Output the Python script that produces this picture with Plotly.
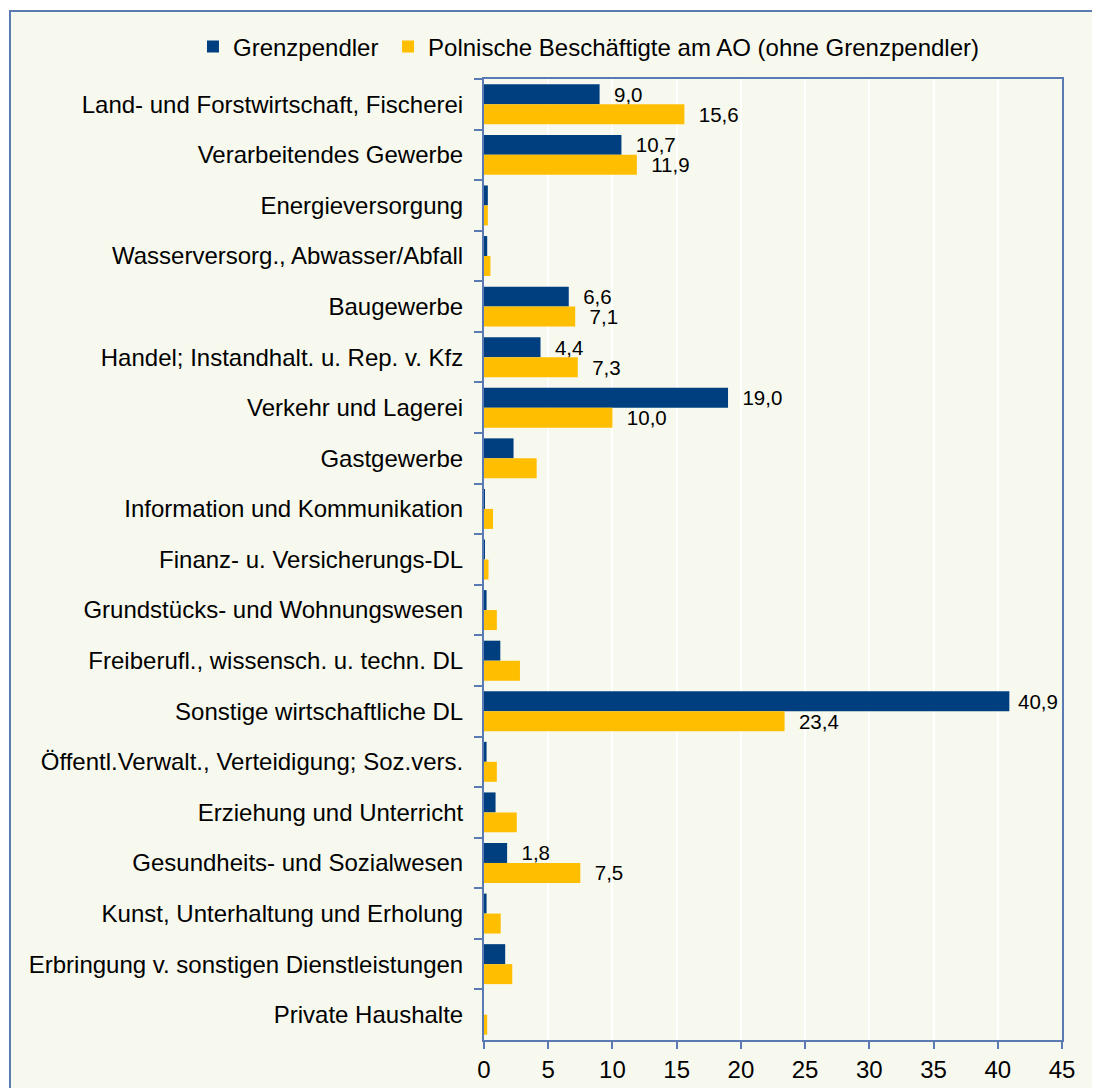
import plotly.graph_objects as go

categories = [
    "Land- und Forstwirtschaft, Fischerei",
    "Verarbeitendes Gewerbe",
    "Energieversorgung",
    "Wasserversorg., Abwasser/Abfall",
    "Baugewerbe",
    "Handel; Instandhalt. u. Rep. v. Kfz",
    "Verkehr und Lagerei",
    "Gastgewerbe",
    "Information und Kommunikation",
    "Finanz- u. Versicherungs-DL",
    "Grundstücks- und Wohnungswesen",
    "Freiberufl., wissensch. u. techn. DL",
    "Sonstige wirtschaftliche DL",
    "Öffentl.Verwalt., Verteidigung; Soz.vers.",
    "Erziehung und Unterricht",
    "Gesundheits- und Sozialwesen",
    "Kunst, Unterhaltung und Erholung",
    "Erbringung v. sonstigen Dienstleistungen",
    "Private Haushalte",
]
grenzpendler = [9.0, 10.7, 0.3, 0.25, 6.6, 4.4, 19.0, 2.3, 0.05, 0.03, 0.2, 1.27,
                40.9, 0.2, 0.9, 1.8, 0.2, 1.65, 0.0]
polnische = [15.6, 11.9, 0.3, 0.5, 7.1, 7.3, 10.0, 4.1, 0.7, 0.35, 1.0, 2.8,
             23.4, 1.0, 2.55, 7.5, 1.3, 2.2, 0.25]
labelled = [True, True, False, False, True, True, True, False, False, False, False,
            False, True, False, False, True, False, False, False]

series_names = ["Grenzpendler", "Polnische Beschäftigte am AO (ohne Grenzpendler)"]
colors = ["#003F7F", "#FFBE00"]
legend_ids = ["legend", "legend2"]

FONT = "Liberation Sans, Arial, sans-serif"
NB = "\u00a0"


def fmt(v, show):
    if not show:
        return ""
    pad = NB if v > 40 else NB * 2
    return pad + f"{v:.1f}".replace(".", ",")


fig = go.Figure()
for name, vals, col, lg in zip(series_names, [grenzpendler, polnische], colors, legend_ids):
    fig.add_trace(go.Bar(
        y=categories, x=vals, name=name, orientation="h", legend=lg,
        marker=dict(color=col, line=dict(width=0)),
        text=[fmt(v, s) for v, s in zip(vals, labelled)],
        textposition="outside", constraintext="none", cliponaxis=False,
        textfont=dict(family=FONT, size=20.5, color="#000000"),
        hoverinfo="x+y",
    ))

legend_common = dict(orientation="h", xanchor="left", yanchor="middle", y=1.0333,
                     font=dict(family=FONT, size=24), bgcolor="rgba(0,0,0,0)",
                     itemwidth=30)

fig.update_layout(
    width=1100, height=1088,
    margin=dict(l=476, r=46, t=71, b=56),
    paper_bgcolor="#FFFFFF",
    plot_bgcolor="#EEECDE",
    barmode="group", bargap=0.21, bargroupgap=0,
    font=dict(family=FONT, size=24, color="#000000"),
    legend=dict(x=-0.5035, **legend_common),
    legend2=dict(x=-0.166, **legend_common),
    showlegend=True,
    shapes=[dict(type="rect", xref="paper", yref="paper",
                 x0=-0.8201, x1=1.09, y0=-0.07, y1=1.0708,
                 line=dict(color="#5A7AB4", width=2), fillcolor="#F8F9EE",
                 layer="below")],
)
fig.update_xaxes(
    range=[0, 45], dtick=5, tick0=0,
    showgrid=True, gridcolor="#FFFFFF", gridwidth=2,
    showline=True, linecolor="#5A7AB4", linewidth=2, mirror=True,
    ticks="outside", ticklen=7, tickwidth=2, tickcolor="#5A7AB4",
    tickfont=dict(family=FONT, size=24), zeroline=False, fixedrange=True,
)
fig.update_yaxes(
    autorange="reversed", type="category",
    showgrid=False,
    showline=True, linecolor="#5A7AB4", linewidth=2, mirror=True,
    ticks="outside", ticklen=8, tickwidth=2, tickcolor="#5A7AB4",
    tickson="boundaries", ticklabelstandoff=14,
    tickfont=dict(family=FONT, size=24), automargin=False, fixedrange=True,
)

fig.write_html("out.html")
